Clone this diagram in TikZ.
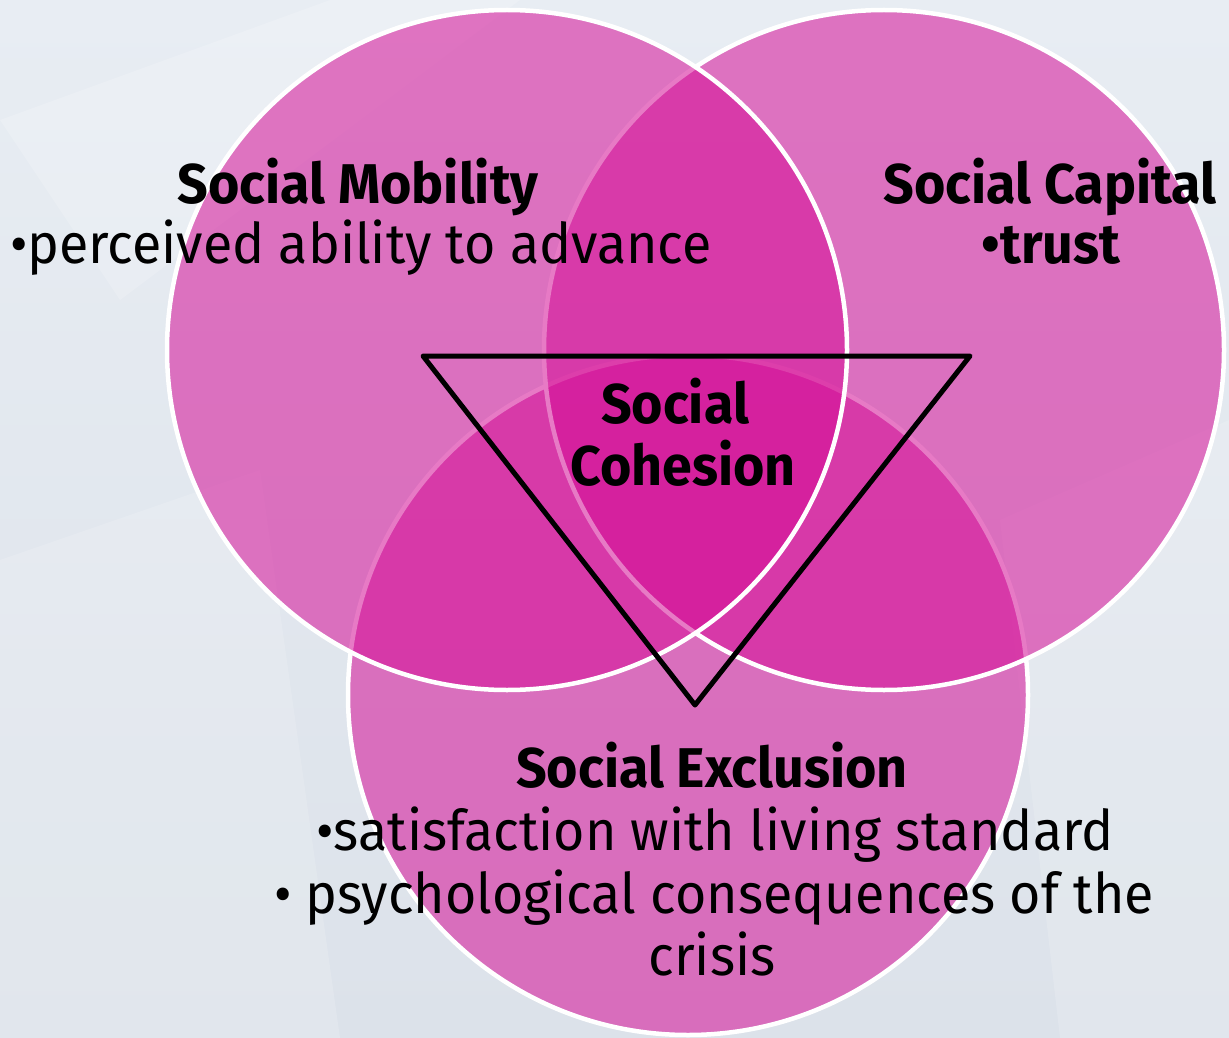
\documentclass[tikz,border=0pt]{standalone}
\usepackage{fontspec}
\setmainfont{Fira Sans}[FakeStretch=0.96]
\definecolor{cpink}{RGB}{213,14,151}
\definecolor{bgtop}{RGB}{232,237,243}
\definecolor{bgbot}{RGB}{220,226,234}
\tikzset{
  venn/.style={circle, minimum size=680pt, inner sep=0pt, fill=cpink, fill opacity=0.55, draw=white, line width=4.5pt},
  head/.style={anchor=base, inner sep=0pt, font=\fontsize{56}{62}\selectfont\bfseries},
  item/.style={anchor=base, inner sep=0pt, font=\fontsize{56}{62}\selectfont},
}
\begin{document}
\begin{tikzpicture}[x=1pt,y=-1pt]
    % background
    \shade[top color=bgtop, bottom color=bgbot] (0,0) rectangle (1229,1038);
    \useasboundingbox (0,0) rectangle (1229,1038);
    \fill[white, opacity=0.18] (0,120) -- (330,0) -- (520,0) -- (120,300) -- cycle;
    \fill[white, opacity=0.15] (0,560) -- (260,470) -- (340,1038) -- (0,1038) -- cycle;
    \fill[white, opacity=0.15] (1229,420) -- (1000,520) -- (1060,1038) -- (1229,1038) -- cycle;

    % the three circles
    \node[venn] (exclusion) at (688,695) {};
    \node[venn] (capital) at (884,350) {};
    \node[venn] (mobility) at (507,350) {};

    % triangle
    \coordinate (tl) at (423,356);
    \coordinate (tr) at (970,356);
    \coordinate (tb) at (695,705);
    \draw[line width=5pt, line join=round] (tl) -- (tr) -- (tb) -- cycle;

    % labels
    \node[head] (mobtitle) at (358,203) {Social Mobility};
    \node[item] (mobitem) at (361,263) {•perceived ability to advance};
    \node[head] (captitle) at (1050,203) {Social Capital};
    \node[head] (capitem) at (1051,263) {•trust};
    \node[head] (cohesion1) at (675,423) {Social};
    \node[head] (cohesion2) at (683,485) {Cohesion};
    \node[head] (exctitle) at (712,787) {Social Exclusion};
    \node[item] (excitem1) at (715,850) {•satisfaction with living standard};
    \node[item] (excitem2) at (714,913) {• psychological consequences of the};
    \node[item] (excitem3) at (712,975) {crisis};
\end{tikzpicture}
\end{document}
